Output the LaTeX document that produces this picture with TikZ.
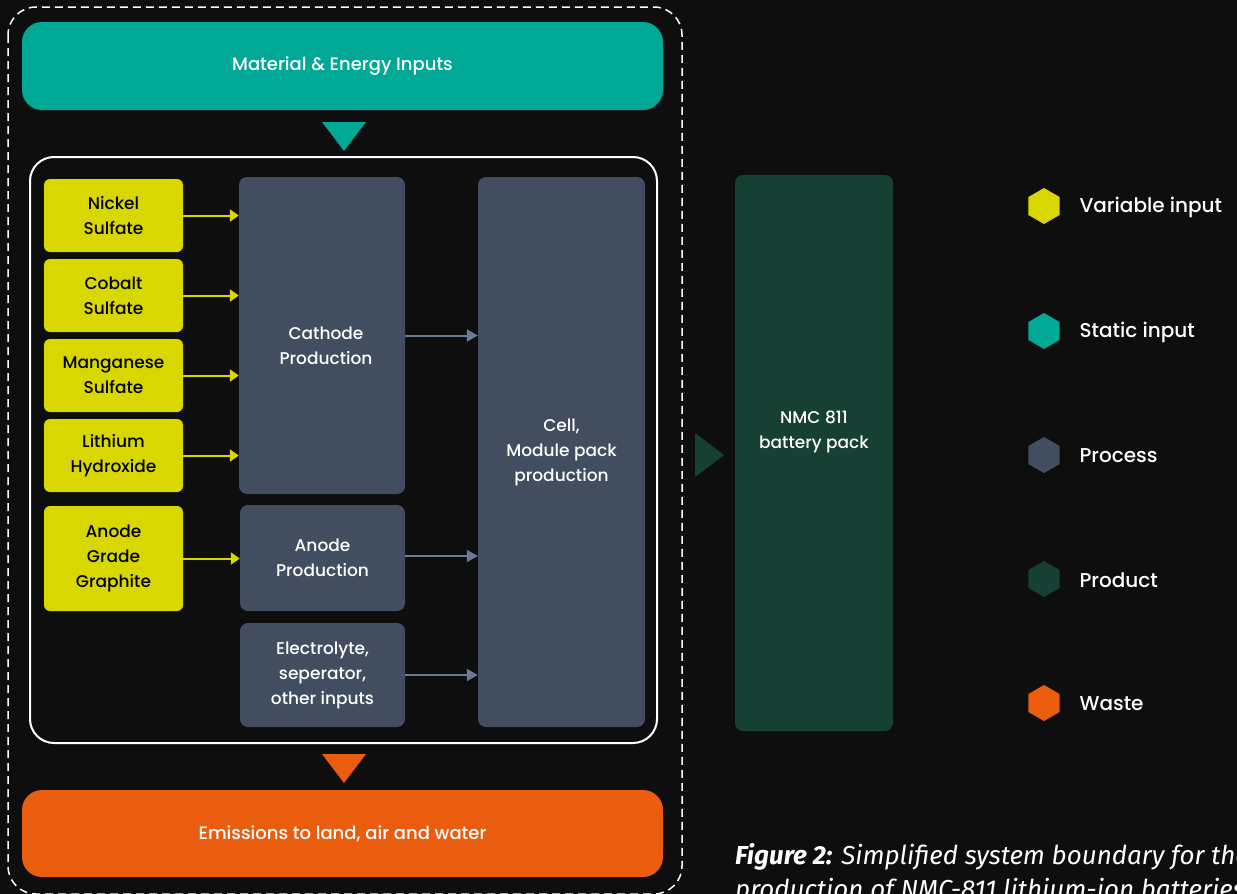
\documentclass[tikz,border=0pt]{standalone}
\usepackage{fontspec}
\setmainfont{Poppins Medium}
\newfontfamily\capfont{Fira Sans}
\usetikzlibrary{shapes.geometric,arrows.meta}
\definecolor{bgc}{HTML}{0E0E0E}
\definecolor{tealc}{HTML}{00A896}
\definecolor{yelc}{HTML}{D8D800}
\definecolor{procc}{HTML}{424D60}
\definecolor{prodc}{HTML}{164034}
\definecolor{orac}{HTML}{EA5D0E}
\definecolor{arrc}{HTML}{6A7B93}
\tikzset{
  box/.style={inner sep=0pt, align=center, font=\fontsize{17}{25}\selectfont},
  barbox/.style={inner sep=0pt, align=center, font=\fontsize{18}{25}\selectfont, rounded corners=20pt, text=white, minimum width=641pt},
  varbox/.style={box, fill=yelc, rounded corners=6pt, text=black, minimum width=139pt, minimum height=73pt},
  procbox/.style={box, fill=procc, rounded corners=8pt, text=white},
  wbtxt/.style={box, text=white},
  yarr/.style={draw=yelc, line width=2pt, -{Triangle[length=9pt,width=12pt]}},
  garr/.style={draw=arrc, line width=2pt, -{Triangle[length=11pt,width=12pt]}},
  hexa/.style={regular polygon, regular polygon sides=6, shape border rotate=30, minimum size=36pt, inner sep=0pt},
  legtxt/.style={anchor=west, text=white, font=\fontsize{20}{24}\selectfont},
  captxt/.style={anchor=base west, inner sep=0pt, text=white, font=\capfont\itshape\fontsize{26}{26}\selectfont},
}
\begin{document}
\begin{tikzpicture}[x=1pt,y=-1pt]
\useasboundingbox (0,0) rectangle (1237,894);
\clip (0,0) rectangle (1237,894);
\fill[bgc] (0,0) rectangle (1237,894);
% outer dashed boundary
\draw[white, line width=1.5pt, dash pattern=on 8pt off 5pt, rounded corners=28pt] (8,7) rectangle (682,894);
% top and bottom bars
\node[barbox, fill=tealc, minimum height=88pt] (inputs) at (342.5,66) {Material \& Energy Inputs};
\node[barbox, fill=orac, minimum height=87pt] (emis) at (342.5,833.5) {Emissions to land, air and water};
% inner boundary
\node[draw=white, line width=2pt, rounded corners=24pt, minimum width=627pt, minimum height=586pt, inner sep=0pt] (bound) at (343.5,450) {};
% triangles
\fill[tealc] (322,122) -- (366,122) -- (344,151) -- cycle;
\fill[orac] (322,754) -- (366,754) -- (344,783) -- cycle;
\fill[prodc] (695,433) -- (695,477) -- (724,455) -- cycle;
% variable inputs
\node[varbox] (ni) at (113.5,215.5) {Nickel\\Sulfate};
\node[varbox] (co) at (113.5,295.5) {Cobalt\\Sulfate};
\node[varbox] (mn) at (113.5,375.5) {Manganese\\Sulfate};
\node[varbox] (li) at (113.5,455.5) {Lithium\\Hydroxide};
\node[varbox, minimum height=105pt] (gr) at (113.5,558.5) {Anode\\Grade\\Graphite};
% processes
\node[procbox, minimum width=166pt, minimum height=317pt] (cath) at (322,335.5) {};
\node[wbtxt] (cathtxt) at (326,346) {Cathode\\Production};
\node[procbox, minimum width=165pt, minimum height=106pt] (anode) at (322.5,558) {Anode\\Production};
\node[procbox, minimum width=165pt, minimum height=104pt] (elec) at (322.5,675) {Electrolyte,\\seperator,\\other inputs};
\node[procbox, minimum width=167pt, minimum height=550pt] (cell) at (561.5,452) {Cell,\\Module pack\\production};
% product
\node[box, fill=prodc, rounded corners=8pt, minimum width=158pt, minimum height=556pt] (nmc) at (814,453) {};
\node[wbtxt] (nmctxt) at (814,432) {NMC 811\\battery pack};
% arrows
\foreach \n in {ni,co,mn,li} \draw[yarr] (\n.east) -- (\n.east -| cath.west);
\draw[yarr] (gr.east) -- (gr.east -| anode.west);
\draw[garr] (cath.east) -- (cath.east -| cell.west);
\draw[garr] ([yshift=2pt]anode.east) -- ([yshift=2pt]anode.east -| cell.west);
\draw[garr] (elec.east) -- (elec.east -| cell.west);
% legend
\node[hexa, fill=yelc] (h1) at (1044,206) {};
\node[hexa, fill=tealc] (h2) at (1044,331) {};
\node[hexa, fill=procc] (h3) at (1044,455) {};
\node[hexa, fill=prodc] (h4) at (1044,579) {};
\node[hexa, fill=orac] (h5) at (1044,703) {};
\node[legtxt] (l1) at (1076,207) {Variable input};
\node[legtxt] (l2) at (1076,332) {Static input};
\node[legtxt] (l3) at (1076,456) {Process};
\node[legtxt] (l4) at (1076,580) {Product};
\node[legtxt] (l5) at (1076,704) {Waste};
% caption
\node[captxt] (cap1) at (735,864) {\textbf{Figure 2:} Simplified system boundary for the};
\node[captxt] (cap2) at (735,898) {production of NMC-811 lithium-ion batteries};
\end{tikzpicture}
\end{document}
